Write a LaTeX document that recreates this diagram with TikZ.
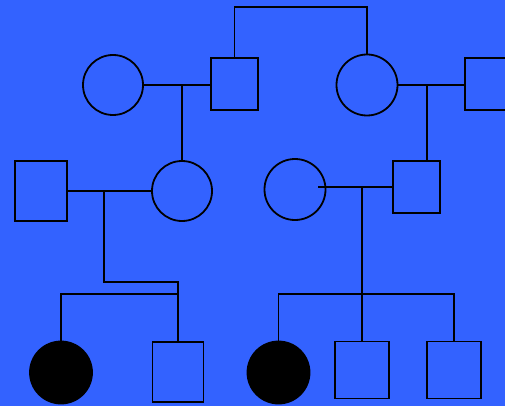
\documentclass[tikz,border=0pt]{standalone}
\usetikzlibrary{calc}
\definecolor{bgblue}{RGB}{51,98,255}
\tikzset{
  person/.style={draw=black, line width=1.8pt, inner sep=0pt, outer sep=0pt},
  female/.style={person, circle, minimum size=#1},
  affected/.style={person, circle, fill=black, minimum size=62pt},
  male/.style={person, rectangle, minimum width=47pt, minimum height=52pt},
  link/.style={draw=black, line width=1.8pt}
}
\begin{document}
\begin{tikzpicture}[x=1pt,y=-1pt]
\useasboundingbox (0,0) rectangle (505,406);
\fill[bgblue] (0,0) rectangle (505,406);
\clip (0,0) rectangle (505,406);
% generation I
\node[female=60pt] (c1) at (113,85) {};
\node[male] (s1) at (234.5,84) {};
\node[female=61pt] (c3) at (367,85) {};
\node[male] (s2) at (488.5,84) {};
% generation II
\node[male, minimum width=52pt, minimum height=60pt] (sL) at (41,191) {};
\node[female=60pt] (c2) at (182,191) {};
\node[female=61pt] (c4) at (295,189.5) {};
\node[male, minimum height=52pt] (s3) at (416.5,187) {};
% generation III
\node[affected] (f1) at (61,372.5) {};
\node[male, minimum width=51pt, minimum height=60pt] (s4) at (178,372) {};
\node[affected] (f2) at (278.5,372.5) {};
\node[male, minimum width=54pt, minimum height=57pt] (s5) at (362,370) {};
\node[male, minimum width=54pt, minimum height=57pt] (s6) at (454,370) {};
% helper coordinates
\coordinate (topbar) at (300,7);
\coordinate (m1) at (182,85);
\coordinate (m3) at (427,85);
\coordinate (m2) at (104,191);
\coordinate (c4in) at (318,187);
\coordinate (m4) at (362,187);
% connectors
\draw[link] (s1.north) |- (topbar) -| (c3.north);
\draw[link] (c1.east) -- (c1.east -| s1.west);
\draw[link] (m1) -- (c2.north);
\draw[link] (c3.east) -- (c3.east -| s2.west);
\draw[link] (m3) -- (m3 |- s3.north);
\draw[link] (sL.east) -- (c2.west);
\draw[link] (m2) |- ($(s4.north |- 0,282)$) -- (s4.north);
\draw[link] (f1.north) |- ($(s4.north |- 0,294)$);
\draw[link] (c4in) -- (s3.west);
\draw[link] (m4) -- (s5.north);
\draw[link] (f2.north) |- ($(s6.north |- 0,294)$) -- (s6.north);
\end{tikzpicture}
\end{document}
